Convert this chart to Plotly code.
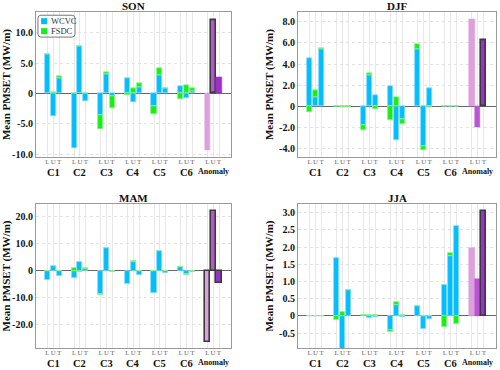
import plotly.graph_objects as go
from plotly.subplots import make_subplots

# Data (order inside each cluster group: L, U, T)

groups = ["C1", "C2", "C3", "C4", "C5", "C6", "Anomaly"]
sub_labels = ["L", "U", "T"]

son_wcvc = [6.4, -3.7, 2.6, -9.0, 7.8, -1.25, -3.55, 3.2, -0.45,
            2.5, -1.45, 1.0, -2.1, 2.95, 0.95, 1.2, -0.75, 0.45]
son_fsdc = [0.05, 0.15, 0.2, 0.0, 0.05, 0.1, -2.3, 0.3, -1.9,
            -0.2, 0.8, 0.75, -1.35, 1.3, 0.0, -0.9, 1.3, 0.4]
son_anom = [-9.3, 12.0, 2.7]
son_outline = [0, 1, 0]

djf_wcvc = [4.55, 0.85, 5.4, 0.0, 0.0, 0.0, -1.8, 2.95, 1.05,
            1.95, -3.15, -1.15, 5.45, -3.7, 1.7, 0.0, 0.0, 0.0]
djf_fsdc = [-0.55, 0.65, 0.1, 0.05, -0.08, -0.03, -0.45, 0.15, -0.25,
            -1.25, 0.85, -0.5, 0.4, -0.45, -0.05, 0.0, 0.0, 0.0]
djf_anom = [8.2, -1.95, 6.25]
djf_outline = [0, 0, 1]

mam_wcvc = [-3.3, 1.6, -1.85, -2.6, 3.2, 0.5, -8.8, 8.5, -0.2,
            -4.8, 3.1, -1.75, -8.4, 7.3, -1.0, 1.2, -1.1, -0.1]
mam_fsdc = [0.0, 0.0, 0.0, 1.0, -0.5, 0.5, -0.2, 0.0, -0.4,
            -0.3, 0.35, 0.0, 0.0, 0.0, 0.0, 0.0, -0.4, -0.4]
mam_anom = [-26.3, 22.1, -4.7]
mam_outline = [1, 1, 1]

jja_wcvc = [0.0, 0.0, 0.0, 1.67, -1.2, 0.75, 0.02, -0.05, -0.03,
            -0.4, 0.33, -0.04, 0.28, -0.37, -0.08, 0.9, 1.73, 2.62]
jja_fsdc = [0.0, 0.0, 0.0, -0.12, 0.12, 0.01, 0.01, 0.03, 0.03,
            -0.07, 0.08, 0.02, 0.0, 0.0, 0.0, -0.33, 0.1, -0.22]
jja_anom = [1.96, 1.07, 3.06]
jja_outline = [0, 0, 1]

son_ticks = [-10, -5, 0, 5, 10]
djf_ticks = [-4, -2, 0, 2, 4, 6, 8]
mam_ticks = [-20, -10, 0, 10, 20]
jja_ticks = [-0.5, 0, 0.5, 1.0, 1.5, 2.0, 2.5, 3.0]

panels = [
    ("SON", son_wcvc, son_fsdc, son_anom, son_outline, son_ticks, [-10.45, 13.4]),
    ("DJF", djf_wcvc, djf_fsdc, djf_anom, djf_outline, djf_ticks, [-4.75, 8.9]),
    ("MAM", mam_wcvc, mam_fsdc, mam_anom, mam_outline, mam_ticks, [-28.6, 24.7]),
    ("JJA", jja_wcvc, jja_fsdc, jja_anom, jja_outline, jja_ticks, [-0.93, 3.25]),
]

# Layout helpers

SERIF = "Liberation Serif"
BLUE, BLUE_EDGE = "#00BFFF", "#8AD9FA"
GREEN, GREEN_EDGE = "#19EE19", "#8CF58C"
offsets = [-0.22, 0.0, 0.22]
bar_w = 0.19
x_all = [g + o for g in range(len(groups)) for o in offsets]
x_clusters = x_all[:18]
x_anom = x_all[18:]
anom_colors = ["#DDA0DD", "#BA55D3", "#9932CC"]


def fmt_tick(v):
    return "0" if v == 0 else f"{v:.1f}"


fig = make_subplots(rows=2, cols=2)

x_domains = [[0.072, 0.462], [0.596, 0.992], [0.072, 0.462], [0.596, 0.992]]
y_domains = [[0.576, 0.967], [0.576, 0.967], [0.0595, 0.4486], [0.0595, 0.4486]]
x_range = [-0.65, 6.67]

for i, (name, wcvc, fsdc, anom, outline, ticks, yr) in enumerate(panels):
    row, col = i // 2 + 1, i % 2 + 1
    fig.add_trace(go.Bar(
        x=x_clusters, y=wcvc, width=bar_w, name="WCVC",
        marker=dict(color=BLUE, line=dict(color=BLUE_EDGE, width=0.8)),
        showlegend=False
    ), row=row, col=col)
    fig.add_trace(go.Bar(
        x=x_clusters, y=fsdc, width=bar_w, name="FSDC",
        marker=dict(color=GREEN, line=dict(color=GREEN_EDGE, width=0.8)),
        showlegend=False
    ), row=row, col=col)
    fig.add_trace(go.Bar(
        x=x_anom, y=anom, width=bar_w, name="Anomaly",
        marker=dict(
            color=anom_colors,
            line=dict(
                color=["#3a3a3a" if o else c for o, c in zip(outline, anom_colors)],
                width=[1.6 if o else 0.5 for o in outline]
            )
        ),
        showlegend=False
    ), row=row, col=col)

    xa = "xaxis" if i == 0 else f"xaxis{i + 1}"
    ya = "yaxis" if i == 0 else f"yaxis{i + 1}"
    fig.layout[xa].update(
        domain=x_domains[i], range=x_range, automargin=False,
        tickvals=x_all, ticktext=sub_labels * len(groups), tickangle=0,
        tickfont=dict(family=SERIF, size=7, color="#666"),
        ticks="", ticklen=0, ticklabelstandoff=-2,
        showgrid=True, gridcolor="#e8e8e8", gridwidth=1,
        showline=True, linecolor="#999", linewidth=1.2, mirror=True,
        zeroline=False
    )
    fig.layout[ya].update(
        domain=y_domains[i], range=yr, automargin=False,
        tickvals=ticks, ticktext=[fmt_tick(t) for t in ticks],
        tickfont=dict(family=SERIF, size=10, color="#111", weight="bold"),
        ticks="", showgrid=True, gridcolor="#e3e3e3", griddash="dot",
        showline=True, linecolor="#999", linewidth=1.2, mirror=True,
        zeroline=True, zerolinecolor="#666", zerolinewidth=1,
        title=dict(text="Mean PMSET (MW/m)", standoff=3,
                   font=dict(family=SERIF, size=11, color="#111", weight="bold"))
    )

    xref = "x" if i == 0 else f"x{i + 1}"
    yref = "y domain" if i == 0 else f"y{i + 1} domain"
    fig.add_annotation(
        text=f"<b>{name}</b>", xref=f"{xref} domain", yref=yref,
        x=0.5, y=1.0, yanchor="middle", showarrow=False, yshift=6,
        font=dict(family=SERIF, size=11, color="#111")
    )
    for g, label in enumerate(groups):
        fig.add_annotation(
            text=f"<b>{label}</b>", xref=xref, yref=yref,
            x=g, y=0, yanchor="top", yshift=-9, showarrow=False,
            borderpad=0,
            font=dict(family=SERIF, size=8 if label == "Anomaly" else 10.5, color="#111")
        )

# Legend box inside the SON panel
lx0, lx1, ly0, ly1 = 0.01, 0.20, 0.828, 0.979
rx, ry = 0.015, 0.02
legend_path = (
    f"M {lx0 + rx},{ly1} L {lx1 - rx},{ly1} Q {lx1},{ly1} {lx1},{ly1 - ry} "
    f"L {lx1},{ly0 + ry} Q {lx1},{ly0} {lx1 - rx},{ly0} "
    f"L {lx0 + rx},{ly0} Q {lx0},{ly0} {lx0},{ly0 + ry} "
    f"L {lx0},{ly1 - ry} Q {lx0},{ly1} {lx0 + rx},{ly1} Z"
)
fig.add_shape(type="path", path=legend_path, xref="x domain", yref="y domain",
              line=dict(color="#777", width=1), fillcolor="white", layer="above")
legend_items = [("WCVC", BLUE, 0.938), ("FSDC", GREEN, 0.869)]
for label, color, yc in legend_items:
    fig.add_shape(type="rect", xref="x domain", yref="y domain",
                  x0=0.026, x1=0.057, y0=yc - 0.021, y1=yc + 0.021,
                  fillcolor=color, line=dict(width=0), layer="above")
    fig.add_annotation(text=label, xref="x domain", yref="y domain",
                       x=0.066, y=yc, xanchor="left", yanchor="middle",
                       showarrow=False,
                       font=dict(family=SERIF, size=8.5, color="#333"))

fig.update_layout(
    width=500, height=370,
    margin=dict(l=0, r=0, t=0, b=0),
    barmode="relative",
    bargap=0,
    plot_bgcolor="white",
    paper_bgcolor="white",
    showlegend=False
)

fig.write_html("out.html", config={"displayModeBar": False},
               post_script="document.body.style.margin='0';")
